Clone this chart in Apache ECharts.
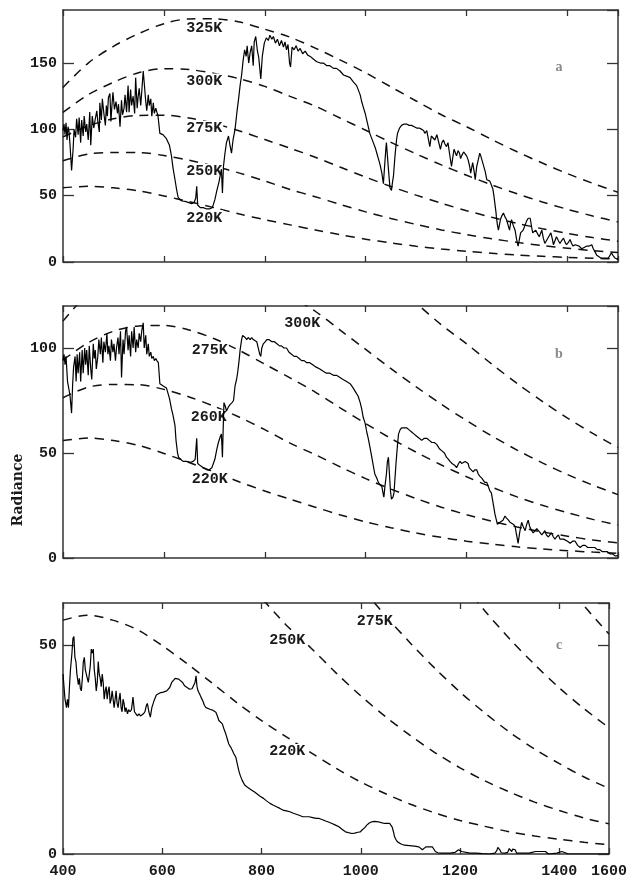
<!DOCTYPE html>
<html>
<head>
<meta charset="utf-8">
<script src="https://cdn.jsdelivr.net/npm/echarts@6/dist/echarts.min.js"></script>
<style>
html,body{margin:0;padding:0;background:#fff;}
#c{width:630px;height:879px;}
</style>
</head>
<body>
<div id="c"></div>
<script>
// ---------------- DATA ----------------
const wavenumbers = [400,450,500,550,600,650,700,750,800,850,900,950,1000,1050,1100,1150,1200,1250,1300,1350,1400,1450,1500];
const bb325 = [131.6,150.0,162.6,172.2,179.7,183.3,183.4,180.9,175.5,169.5,161.3,152.2,142.6,132.0,121.4,111.0,102.0,92.3,83.1,74.6,66.6,59.3,52.6];
const bb300 = [112.8,126.2,135.5,142.7,145.7,145.1,142.2,138.1,132.4,124.9,117.5,108.4,99.3,90.2,81.5,73.2,65.4,58.1,51.4,45.3,39.7,34.7,30.2];
const bb275 = [94.3,102.5,108.0,110.5,110.7,108.6,104.4,98.8,92.3,85.8,79.0,71.4,64.0,56.9,50.4,44.3,38.7,33.7,29.1,25.1,21.6,18.4,15.7];
const bb250 = [76.3,81.4,82.6,82.5,80.3,76.7,72.2,67.0,61.1,54.7,49.2,43.3,37.8,32.8,28.3,24.2,20.6,17.5,14.8,12.4,10.4,8.6,7.2];
const bb220 = [55.9,57.1,55.9,53.6,49.8,45.5,40.9,36.2,31.9,28.0,24.2,20.5,17.2,14.4,11.9,9.8,8.0,6.6,5.3,4.3,3.5,2.8,2.2];

const specA = [[400,99],[402,104],[404,96],[406,105],[408,92],[410,102],[412,98],[414,88],[417,69],[420,85],[422,100],[425,94],[427,108],[430,96],[432,109],[435,90],[437,107],[440,95],[442,110],[445,98],[447,104],[450,92],[453,113],[455,88],[458,110],[461,101],[464,108],[467,114],[469,106],[472,98],[473,120],[476,107],[478,123],[481,112],[484,103],[486,118],[488,110],[490,124],[493,127],[495,106],[497,118],[499,128],[502,115],[505,121],[508,112],[510,119],[513,102],[516,122],[518,111],[521,116],[523,126],[526,113],[529,133],[531,113],[534,130],[536,118],[539,125],[542,112],[544,139],[547,116],[549,125],[551,131],[554,118],[556,128],[559,144],[561,135],[564,121],[566,114],[569,126],[571,118],[574,123],[576,110],[579,120],[581,112],[584,116],[586,113],[588,111],[590,111],[592,97],[598,96],[605,93],[611,88],[615,80],[618,71],[622,62],[625,55],[628,49],[632,47],[636,46],[642,45.7],[648,45],[655,44],[660,45],[663,48],[665,57],[667,43],[672,41],[678,41],[685,40],[690,40],[696,41],[701,47],[705,54],[709,60],[712,66],[714,70],[716,52],[718,72],[721,82],[724,90],[728,95],[731,88],[734,82],[737,92],[741,100],[745,114],[748,123],[751,133],[754,141],[757,152],[760,160],[763,155],[765,163],[768,150],[771,158],[774,163],[777,148],[779,166],[782,170],[785,160],[788,154],[792,138],[795,155],[799,165],[803,169],[807,167],[810,171],[814,168],[817,170],[821,165],[825,168],[829,163],[833,167],[837,162],[840,166],[843,160],[846,164],[849,150],[851,147],[854,162],[858,160],[862,163],[866,159],[870,161],[875,157],[880,159],[885,156],[890,155],[896,153],[903,151],[910,150],[916,150],[923,148],[929,148],[936,146],[942,146],[949,144],[956,141],[963,140],[969,139],[975,136],[982,133],[986,129],[989,126],[992,121],[995,117],[999,112],[1002,107],[1005,102],[1008,97],[1012,93],[1015,90],[1019,86],[1022,82],[1025,78],[1028,74],[1032,67],[1035,59],[1037,70],[1040,86],[1041,90],[1043,80],[1045,70],[1048,56],[1051,54],[1053,60],[1055,65],[1058,80],[1061,92],[1063,97],[1067,101],[1071,103],[1076,104],[1081,104],[1086,103],[1091,103],[1096,102],[1101,101],[1106,101],[1111,100],[1115,99],[1117,97],[1121,99],[1124,93],[1127,87],[1130,95],[1133,95],[1137,92],[1141,96],[1144,95],[1148,85],[1151,90],[1154,92],[1157,89],[1160,87],[1163,90],[1166,82],[1170,72],[1173,80],[1175,85],[1178,82],[1180,80],[1183,84],[1186,82],[1188,78],[1190,80],[1194,83],[1197,82],[1200,80],[1203,77],[1206,72],[1208,67],[1210,71],[1212,75],[1215,68],[1217,62],[1220,72],[1223,77],[1226,82],[1228,80],[1231,76],[1233,75],[1237,68],[1240,62],[1243,62],[1246,61],[1249,58],[1252,55],[1254,50],[1256,44],[1258,38],[1259,34],[1261,28],[1263,24],[1265,28],[1267,32],[1270,35],[1273,37],[1276,34],[1279,32],[1282,28],[1285,24],[1287,29],[1289,32],[1292,28],[1296,24],[1299,17],[1302,12],[1305,18],[1307,22],[1310,23],[1312,24],[1316,28],[1319,31],[1322,33],[1326,33],[1329,26],[1331,22],[1334,23],[1337,24],[1341,21],[1344,19],[1347,22],[1349,24],[1352,18],[1355,14],[1358,16],[1360,17],[1364,20],[1367,22],[1370,17],[1372,13],[1375,16],[1378,19],[1382,16],[1385,14],[1388,16],[1392,18],[1395,15],[1398,13],[1402,15],[1405,17],[1408,14],[1411,12],[1415,13],[1418,14],[1423,12],[1428,10],[1433,11],[1438,12],[1443,12],[1448,13],[1451,10],[1454,8],[1458,5],[1461,4],[1466,3],[1471,3],[1476,3],[1481,3],[1484,5],[1487,7],[1490,5],[1494,3],[1500,2]];

const specB = [[400,94],[402,97],[404,92],[406,96],[409,84],[412,80],[414,77],[417,69],[419,82],[421,91],[424,96],[426,84],[428,97],[430,88],[433,98],[435,84],[438,99],[440,88],[443,100],[445,92],[447,99],[450,87],[452,101],[455,90],[457,85],[460,102],[462,95],[464,99],[466,90],[469,96],[471,104],[474,97],[476,105],[479,93],[481,103],[484,98],[487,107],[489,97],[491,101],[494,94],[496,104],[499,98],[501,102],[504,94],[506,100],[509,105],[511,97],[514,108],[516,86],[519,104],[521,97],[524,108],[526,110],[529,99],[531,106],[534,96],[536,108],[539,100],[541,110],[544,98],[546,104],[549,100],[551,107],[554,103],[556,108],[559,112],[561,100],[564,106],[566,97],[569,102],[571,96],[574,98],[576,95],[579,96],[581,94],[584,95],[586,94],[589,93],[592,83],[598,82],[605,81],[611,76],[615,71],[618,68],[622,63],[624,56],[627,50],[629,48],[633,47],[638,46],[645,46],[652,45.5],[658,46],[662,47],[665,57],[667,45],[672,44],[678,43],[685,42],[690,42],[695,43],[701,47],[705,52],[708,55],[712,58],[714,59],[716,48],[718,66],[719,74],[722,72],[724,70],[728,72],[731,73],[735,74],[738,75],[741,82],[744,85],[746,88],[749,94],[751,99],[754,104],[756,106],[759,106],[761,105],[764,104],[767,105],[771,104],[774,105],[777,104],[780,104],[784,103],[787,103],[790,97],[792,96],[794,100],[797,102],[801,103],[804,104],[808,104],[814,103],[819,103],[824,102],[829,101],[833,101],[838,100],[843,100],[848,98],[853,97],[858,96],[863,96],[868,95],[873,94],[878,94],[883,93],[889,93],[895,92],[901,91],[909,90],[915,89],[922,88],[929,88],[936,87],[942,87],[949,86],[955,85],[962,84],[969,83],[975,81],[980,79],[985,77],[989,74],[992,71],[995,67],[999,64],[1002,60],[1005,57],[1009,52],[1012,48],[1015,44],[1018,40],[1022,38],[1025,36],[1028,35],[1032,34],[1035,30],[1036,29],[1038,34],[1041,40],[1043,46],[1045,48],[1047,40],[1049,32],[1051,28],[1054,29],[1056,31],[1058,38],[1060,45],[1063,54],[1065,59],[1068,61],[1071,62],[1076,62],[1081,62],[1086,61],[1091,60],[1096,59],[1101,58],[1106,57],[1111,56],[1116,57],[1121,57],[1126,56],[1131,55],[1136,55],[1141,54],[1146,52],[1151,51],[1156,50],[1160,48],[1164,47],[1167,46],[1171,45],[1174,45],[1177,44],[1180,43],[1184,45],[1187,46],[1190,45],[1193,45],[1197,46],[1200,46],[1203,45],[1205,43],[1209,42],[1213,41],[1216,42],[1220,42],[1223,40],[1226,39],[1230,38],[1233,37],[1236,36],[1240,36],[1243,34],[1246,32],[1249,31],[1252,31],[1254,24],[1256,21],[1259,18],[1261,16],[1263,16],[1266,17],[1269,17],[1272,18],[1276,20],[1279,19],[1283,18],[1286,17],[1289,17],[1293,16],[1296,15],[1299,11],[1302,7],[1305,12],[1309,17],[1312,15],[1316,13],[1319,16],[1322,18],[1325,15],[1329,13],[1332,12],[1335,12],[1339,14],[1342,14],[1346,12],[1349,11],[1352,12],[1355,13],[1358,11],[1362,10],[1365,11],[1368,12],[1372,10],[1375,9],[1378,10],[1382,11],[1385,9],[1388,9],[1392,9],[1395,9],[1400,8],[1405,7],[1410,8],[1415,8],[1420,6],[1425,5],[1430,6],[1435,6],[1440,5],[1444,5],[1449,5],[1454,5],[1459,4],[1464,4],[1469,3],[1474,3],[1479,3],[1484,2],[1489,2],[1494,1],[1500,1]];

const specC = [[400,43],[402,40],[404,37],[407,35],[409,37],[411,35],[413,40],[415,44],[418,48],[420,51.5],[422,52],[424,47],[426,46],[428,43],[431,40.5],[433,42],[435,39.5],[437,39],[439,42],[441,46],[443,47],[445,44],[447,43],[449,42],[451,41],[453,43],[455,45],[457,49],[459,48],[461,49],[463,44],[465,42],[467,39],[469,41],[471,46],[473,43],[475,42],[477,40],[479,43],[481,41],[483,37],[485,39],[487,40],[489,37],[491,39],[493,40],[495,36],[497,37],[499,39],[501,37],[503,35],[505,37],[507,39],[509,36],[511,35],[513,37],[515,38.5],[517,35],[519,34],[521,37],[523,36],[525,34],[527,35],[530,33.5],[532,34.5],[535,34],[538,34.5],[541,37.5],[544,34],[547,33.5],[550,33],[553,33.5],[556,33],[559,33],[562,33.5],[565,34],[568,35.5],[570,36],[573,34],[576,32.7],[579,35],[583,36.5],[588,38],[595,38.5],[602,38.7],[609,39],[615,39.8],[619,41],[622,41.4],[626,42],[629,42],[633,41.8],[637,41.6],[641,41],[645,40.2],[650,39.8],[655,39.4],[660,39.5],[664,39.8],[666,41],[668,42.6],[670,40],[672,39],[675,38.3],[678,37.5],[682,36.5],[685,35.5],[688,35],[691,34.7],[696,34.6],[701,34.4],[705,34.2],[708,33.9],[711,33],[714,31.9],[718,31.5],[721,31.1],[724,30],[728,28.7],[731,27.5],[734,26.3],[738,25.5],[741,24.8],[744,24],[748,23.2],[751,21.6],[754,20],[757,18.8],[761,17.6],[766,16.5],[771,16],[776,15.6],[781,15.2],[786,14.8],[790,14.4],[797,13.8],[804,13.3],[810,12.7],[817,12.1],[823,11.7],[830,11.3],[837,10.9],[843,10.5],[850,10.3],[857,10.1],[863,9.8],[870,9.5],[877,9.2],[883,8.9],[890,8.9],[896,8.9],[903,8.7],[910,8.5],[916,8.5],[923,8.2],[929,7.9],[936,7.6],[942,7.3],[949,6.9],[956,6.5],[962,5.9],[969,5.3],[975,5.1],[982,4.9],[988,5],[994,5.2],[999,5.3],[1003,5.8],[1008,6.3],[1012,6.9],[1017,7.4],[1022,7.7],[1028,7.8],[1035,7.7],[1041,7.5],[1048,7.3],[1053,7.3],[1058,7.3],[1061,7],[1063,6.5],[1066,5.2],[1068,4.1],[1071,3.4],[1074,2.9],[1081,2.4],[1088,2.1],[1098,2],[1108,1.9],[1117,1.7],[1121,1.4],[1124,1],[1127,1.4],[1131,1.7],[1138,1.7],[1144,1.7],[1147,1.2],[1150,0.6],[1155,0.3],[1160,0.2],[1170,0.2],[1180,0.2],[1190,0.4],[1193,0.6],[1197,1],[1200,1.1],[1203,0.6],[1207,0.2],[1220,0.2],[1233,0.2],[1245,0.1],[1259,0],[1270,0.2],[1274,0.8],[1276,1.6],[1278,1.7],[1280,1],[1283,0.3],[1290,0.2],[1296,0.4],[1299,1.3],[1302,0.9],[1304,0.6],[1306,1.2],[1309,1.6],[1311,1],[1314,0.2],[1330,0.2],[1339,0.2],[1345,0.4],[1352,0.6],[1365,0.6],[1372,0.6],[1378,0],[1395,0.2],[1405,0.6],[1412,0.3],[1418,0],[1460,0],[1500,0]];

const xTickValues = [400,600,800,1000,1200,1400,1500];
const xTickLabels = ['400','600','800','1000','1200','1400','1600'];
const curveNamesA = ['325K','300K','275K','250K','220K'];
const curveNamesB = ['300K','275K','260K','220K'];
const curveNamesC = ['275K','250K','220K'];
const panelTags = ['a','b','c'];
const yAxisTitle = 'Radiance';

// ---------------- LAYOUT ----------------
const grids = [
  {left:63, right:12, top:10, height:252},
  {left:63, right:12, top:306, height:252},
  {left:63, right:12, top:603, height:251}
];
const yMaxes = [190, 120, 60];
const spectra = [specA, specB, specC];
const curves = [bb325, bb300, bb275, bb250, bb220];
const labelNames = [curveNamesA, curveNamesB, curveNamesC];
const labelAnchors = [
  [[680,176.5],[680,136.4],[680,100.8],[680,68.2],[680,33.3]],
  [[874,111.9],[691,99],[689,67.1],[691,37.6]],
  [[1028,55.7],[852,51],[852,24.5]]
];
const tagPos = [[559,67],[559,354],[559,645]];

const monoFont = 'Liberation Mono';
const ink = '#1a1a1a';
const frameStyle = {color:'#333', width:1.5};

const xAxis = [], yAxis = [], series = [];
for (let i = 0; i < 3; i++) {
  const common = {type:'value', gridIndex:i, min:400, max:1500, interval:200,
    splitLine:{show:false},
    axisLine:{show:true, onZero:false, lineStyle:frameStyle},
    axisTick:{show:true, inside:true, length:6, lineStyle:{color:'#333', width:1.3}}};
  xAxis.push(Object.assign({}, common, {position:'bottom',
    axisLabel:{show:i===2, margin:10, showMaxLabel:true, showMinLabel:true,
      alignMaxLabel:'center', alignMinLabel:'center', hideOverlap:false,
      fontFamily:monoFont, fontWeight:'bold', fontSize:15, color:ink,
      formatter: v => { const k = xTickValues.indexOf(v); return k >= 0 ? xTickLabels[k] : ''; }}}));
  xAxis.push(Object.assign({}, common, {position:'top', axisLabel:{show:false}}));
  const ycommon = {type:'value', gridIndex:i, min:0, max:yMaxes[i], interval:50,
    splitLine:{show:false},
    axisLine:{show:true, onZero:false, lineStyle:frameStyle},
    axisTick:{show:true, inside:true, length:11, lineStyle:{color:'#333', width:1.3}}};
  yAxis.push(Object.assign({}, ycommon, {position:'left',
    axisLabel:{show:true, margin:6, showMaxLabel:false,
      fontFamily:monoFont, fontWeight:'bold', fontSize:15, color:ink}}));
  yAxis.push(Object.assign({}, ycommon, {position:'right', axisLabel:{show:false}}));

  curves.forEach(c => {
    series.push({type:'line', xAxisIndex:2*i, yAxisIndex:2*i, z:2,
      data: wavenumbers.map((w,k) => [w, c[k]]),
      showSymbol:false, smooth:0.3, clip:true, silent:true,
      lineStyle:{color:'#111', width:1.5, type:[9,7]}});
  });
  series.push({type:'scatter', xAxisIndex:2*i, yAxisIndex:2*i, z:3, silent:true,
    symbolSize:2, itemStyle:{color:'rgba(255,255,255,0)'},
    data: labelNames[i].map((n,k) => ({name:n, value:labelAnchors[i][k]})),
    label:{show:true, position:'inside', formatter:p => p.name, opacity:1,
      fontFamily:monoFont, fontWeight:'bold', fontSize:15, color:ink,
      backgroundColor:'#fff', padding:[0,1]}});
  series.push({type:'line', xAxisIndex:2*i, yAxisIndex:2*i, z:4,
    data: spectra[i], showSymbol:false, clip:true, silent:true,
    lineStyle:{color:'#000', width:1.2}});
}

const graphic = [{
  type:'text', x:18, y:490, rotation:Math.PI/2,
  style:{text:yAxisTitle, align:'center', verticalAlign:'middle',
    font:'bold 14px "DejaVu Serif"', fill:ink}
}];
panelTags.forEach((t,i) => graphic.push({type:'text', x:tagPos[i][0], y:tagPos[i][1],
  style:{text:t, align:'center', verticalAlign:'middle',
    font:'bold 14px "Liberation Serif"', fill:'#888'}}));

const chart = echarts.init(document.getElementById('c'), null, {renderer:'canvas'});
chart.setOption({
  animation:false,
  backgroundColor:'#fff',
  grid:grids,
  xAxis:xAxis,
  yAxis:yAxis,
  series:series,
  graphic:graphic
});
</script>
</body>
</html>
